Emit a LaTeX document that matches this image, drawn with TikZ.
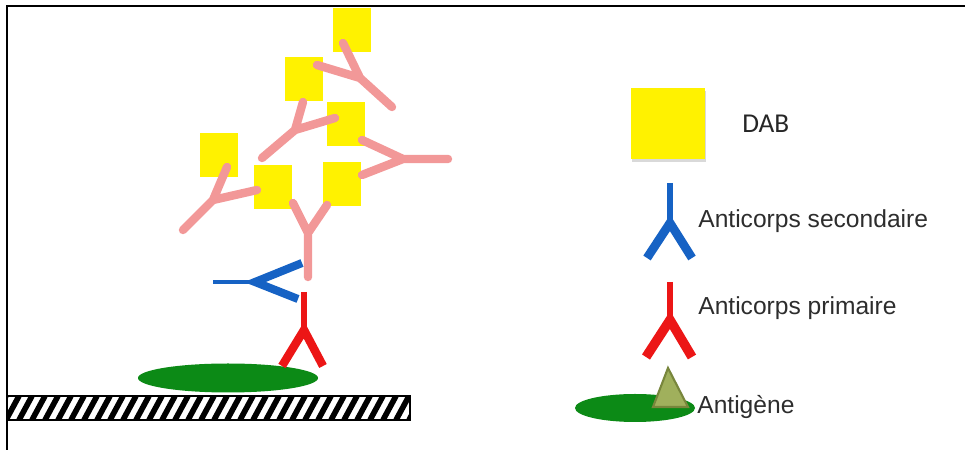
\documentclass[tikz,border=0pt]{standalone}
\usepackage{fontspec}
\usepackage{xcolor}
\setmainfont{Liberation Sans}
\newfontfamily\dabfont{Carlito}
\definecolor{abpink}{RGB}{242,152,152}
\definecolor{abblue}{RGB}{22,98,196}
\definecolor{abred}{RGB}{236,22,22}
\definecolor{agreen}{RGB}{12,138,22}
\definecolor{olive}{RGB}{160,176,92}
\definecolor{oliveline}{RGB}{120,134,60}
\definecolor{labelgray}{RGB}{45,45,45}

\begin{document}
\begin{tikzpicture}[x=0.2mm, y=-0.2mm,
    tertiary/.style={abpink, line width=4.8pt, line cap=round},
    secondary/.style={abblue, line width=4.6pt},
    primary/.style={abred, line width=4.8pt},
    legend/.style={anchor=base west, inner sep=0pt, text=labelgray,
                   font=\fontsize{14}{16}\selectfont}]
  \useasboundingbox (0,0) rectangle (965,450);
  % Frame (top and left only)
  \draw[line width=1.1pt] (7,450) -- (7,6) -- (965,6);
  % Slide: hatched support
  \begin{scope}
    \clip (7,396) rectangle (410,420);
    \foreach \x in {-20,-7,...,420} {
      \draw[line width=3.2pt] (\x,420) -- (\x+13,396);
    }
  \end{scope}
  \draw[line width=1.1pt] (7,396) rectangle (410,420);
  % Antigen on the slide
  \fill[agreen] (228,378) ellipse (90 and 14.5);
  % DAB deposits
  \foreach \x/\y in {333/8, 285/57, 327/102, 200/133, 254/165, 323/162} {
    \fill[yellow] (\x,\y) rectangle ++(38,44);
  }
  % Labelled antibodies: stem end / hinge / arm / arm
  \foreach \s/\h/\a/\b in {{308,277}/{308,233}/{293,203}/{327,205},
                           {183,230}/{213,200}/{227,167}/{257,190},
                           {262,158}/{295,130}/{303,102}/{335,118},
                           {392,107}/{360,78}/{343,43}/{317,65},
                           {448,159}/{403,159}/{362,140}/{362,175}} {
    \draw[tertiary] (\s) -- (\h) -- (\a) (\h) -- (\b);
  }
  % Secondary antibody
  \draw[secondary, line width=2.4pt] (213,282) -- (255,282);
  \draw[secondary] (302,263) -- (255,282) -- (298,299);
  % Primary antibody
  \draw[primary, line width=3.4pt] (304,292) -- (304,330);
  \draw[primary] (282,366) -- (304,330) -- (323,366);

  % Legend
  \fill[gray!30] (632,91) rectangle (706,162);
  \fill[yellow] (631,88) rectangle (705,159);
  \node[legend, text=black!85, font=\dabfont\fontsize{15.5}{18}\selectfont]
    (dab) at (742,133) {DAB};
  \draw[secondary, line width=3pt] (670,183) -- (670,223);
  \draw[secondary, line width=5pt] (647,258) -- (670,223) -- (692,258);
  \node[legend] (sec) at (698,228) {Anticorps secondaire};
  \draw[primary, line width=3.4pt] (670,282) -- (670,320);
  \draw[primary, line width=5.4pt] (646,357) -- (670,320) -- (692,357);
  \node[legend] (prim) at (698,315) {Anticorps primaire};
  \fill[agreen] (635,408) ellipse (60 and 14);
  \filldraw[fill=olive, draw=oliveline, line width=1.2pt]
    (668,368) -- (653,407) -- (688,407) -- cycle;
  \node[legend] (ag) at (697,414) {Antigène};
\end{tikzpicture}
\end{document}
